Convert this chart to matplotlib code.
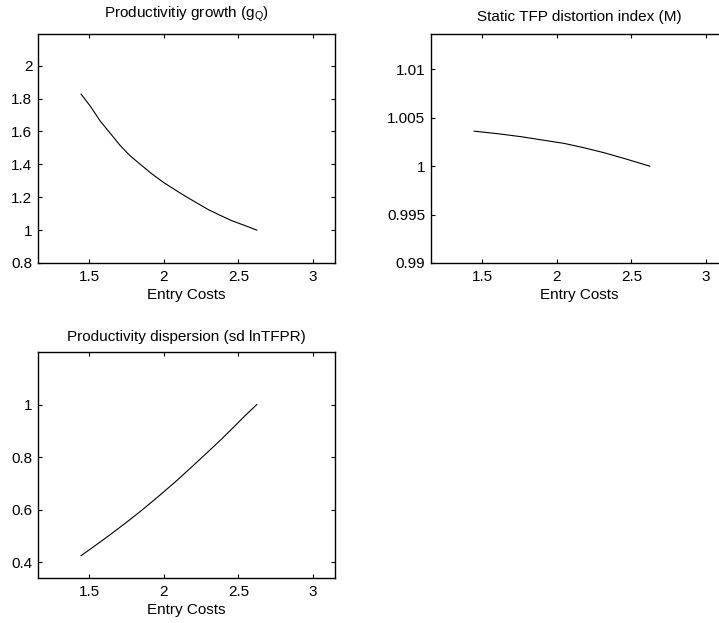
import numpy as np
import matplotlib
matplotlib.use('Agg')
import matplotlib.pyplot as plt

plt.rcParams['font.family'] = ['Liberation Sans', 'DejaVu Sans']
plt.rcParams['mathtext.default'] = 'regular'
plt.rcParams['font.size'] = 11

# productivity growth g_Q (normalised) vs entry costs
x_growth = [1.444, 1.505, 1.572, 1.628, 1.706, 1.773, 1.852, 1.919, 1.997,
            2.075, 2.142, 2.221, 2.299, 2.377, 2.456, 2.534, 2.623]
growth = [1.827, 1.755, 1.664, 1.602, 1.515, 1.452, 1.392, 1.342, 1.290,
          1.245, 1.207, 1.165, 1.124, 1.090, 1.057, 1.031, 1.000]

# static TFP distortion index M
x_distortion = [1.444, 1.607, 1.763, 2.05, 2.18, 2.317, 2.473, 2.623]
distortion = [1.00362, 1.00335, 1.00304, 1.00235, 1.00191,
              1.00139, 1.00070, 1.00000]

# productivity dispersion, sd lnTFPR
x_dispersion = [1.444, 1.516, 1.628, 1.74, 1.852, 1.964, 2.075, 2.187,
                2.299, 2.389, 2.466, 2.545, 2.623]
dispersion = [0.425, 0.454, 0.500, 0.548, 0.598, 0.651, 0.705, 0.763,
              0.822, 0.870, 0.913, 0.958, 1.000]

titles = ['Productivitiy growth (g$_{Q}$)',
          'Static TFP distortion index (M)',
          'Productivity dispersion (sd lnTFPR)']

W, H = 719., 623.
fig = plt.figure(figsize=(W/100, H/100), dpi=100)

# axes boxes in pixels: left, top, right, bottom
boxes = [(38, 34, 335, 263), (431, 34, 728, 263), (38, 352, 335, 578)]

xt = [1.5, 2, 2.5, 3]
yticks = [[0.8, 1, 1.2, 1.4, 1.6, 1.8, 2],
          [0.99, 0.995, 1, 1.005, 1.01],
          [0.4, 0.6, 0.8, 1]]
ylabs = [['0.8', '1', '1.2', '1.4', '1.6', '1.8', '2'],
         ['0.99', '0.995', '1', '1.005', '1.01'],
         ['0.4', '0.6', '0.8', '1']]
xs = [x_growth, x_distortion, x_dispersion]
series = [growth, distortion, dispersion]
ylims = [(0.8*min(growth), 1.2*max(growth)),
         (0.99*min(distortion), 1.01*max(distortion)),
         (0.8*min(dispersion), 1.2*max(dispersion))]
pads = [12, 9, 8]

for i in range(3):
    l, t, r, b = boxes[i]
    ax = fig.add_axes([l/W, (H-b)/H, (r-l)/W, (b-t)/H])
    ax.plot(xs[i], series[i], color='black', linewidth=0.8)
    ax.set_xlim(0.8*min(xs[i]), 1.2*max(xs[i]))
    ax.set_ylim(ylims[i])
    ax.set_xticks(xt)
    ax.set_xticklabels(['1.5', '2', '2.5', '3'])
    ax.set_yticks(yticks[i])
    ax.set_yticklabels(ylabs[i])
    ax.tick_params(direction='in', top=True, right=True, length=3,
                   width=0.8, labelsize=11, pad=4)
    ax.tick_params(axis='x', pad=5)
    for s in ax.spines.values():
        s.set_linewidth(1.0)
    ax.set_xlabel('Entry Costs', labelpad=3)
    ax.set_title(titles[i], fontsize=11, pad=pads[i])

fig.savefig('out.png', dpi=100)
